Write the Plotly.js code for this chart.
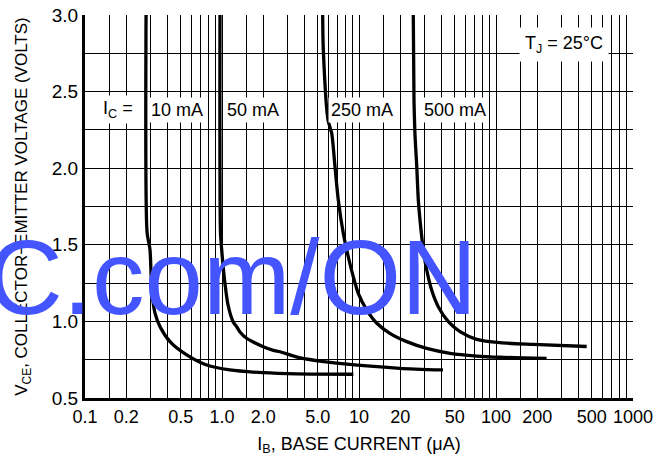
<!DOCTYPE html>
<html>
<head>
<meta charset="utf-8">
<script src="https://cdn.plot.ly/plotly-3.0.1.min.js"></script>
<style>html,body{margin:0;padding:0;background:#fff;}#chart{width:660px;height:464px;}</style>
</head>
<body>
<div id="chart"></div>
<script>
// Base current I_B (uA) and collector-emitter voltage V_CE (V) for each collector current
const ib10  = [0.279, 0.284, 0.298, 0.307, 0.324, 0.353, 0.417, 0.553, 0.773, 1.14, 1.99, 3.51, 9.1];
const vce10 = [3.0, 1.58, 1.47, 1.21, 1.055, 0.965, 0.868, 0.781, 0.715, 0.683, 0.665, 0.657, 0.655];

const ib50  = [0.967, 0.975, 0.995, 1.05, 1.107, 1.208, 1.28, 1.353, 1.51, 1.69, 2.0, 2.37, 2.65, 3.6, 6.14, 11.4, 19.9, 41];
const vce50 = [3.0, 1.58, 1.466, 1.251, 1.107, 0.996, 0.965, 0.931, 0.89, 0.866, 0.835, 0.811, 0.802, 0.765, 0.732, 0.709, 0.694, 0.683];

const ib250  = [5.43, 5.49, 5.94, 6.32, 6.68, 7.06, 7.68, 8.35, 9.08, 9.88, 11.4, 13.5, 16.8, 22.3, 31.2, 46.2, 72.3, 107, 234];
const vce250 = [3.0, 2.772, 2.315, 2.228, 2.01, 1.792, 1.575, 1.422, 1.292, 1.183, 1.074, 0.988, 0.922, 0.868, 0.824, 0.792, 0.774, 0.766, 0.758];

const ib500  = [24.9, 25.2, 25.6, 26.4, 27.1, 28.2, 29.5, 31.2, 33.9, 37.9, 44.9, 54.6, 72.3, 107, 187, 459];
const vce500 = [3.0, 2.445, 2.228, 2.01, 1.792, 1.618, 1.466, 1.336, 1.205, 1.096, 0.998, 0.933, 0.883, 0.861, 0.85, 0.836];

const curveLabels = ["I<sub>C</sub> =", "10 mA", "50 mA", "250 mA", "500 mA"];

// Axis ticks (grid at 1, 1.5, 2..9 per decade; labels only at 1-2-5)
const xLabelVals = [0.1, 0.2, 0.5, 1, 2, 5, 10, 20, 50, 100, 200, 500, 1000];
const xLabelText = ["0.1", "0.2", "0.5", "1.0", "2.0", "5.0", "10", "20", "50", "100", "200", "500", "1000"];
const decades = [0.1, 1, 10, 100];
const gridMults = [1, 1.5, 2, 3, 4, 5, 6, 7, 8, 9];
const yTickVals = [0.5, 0.75, 1.0, 1.25, 1.5, 1.75, 2.0, 2.25, 2.5, 2.75, 3.0];
const yTickText = ["0.5", "", "1.0", "", "1.5", "", "2.0", "", "2.5", "", "3.0"];

const xTickVals = [];
decades.forEach(d => gridMults.forEach(m => xTickVals.push(+(d * m).toPrecision(6))));
xTickVals.push(1000);
const xTickText = xTickVals.map(v => {
  const i = xLabelVals.findIndex(l => Math.abs(l - v) < 1e-9);
  return i >= 0 ? xLabelText[i] : "";
});

const FONT = "'Liberation Sans', Arial, sans-serif";

const series = [[ib10, vce10], [ib50, vce50], [ib250, vce250], [ib500, vce500]];
const traces = series.map(([x, y]) => ({
  x: x, y: y, type: "scatter", mode: "lines",
  line: {color: "#000", width: 3.3, shape: "spline", smoothing: 0.7},
  hoverinfo: "skip", showlegend: false
}));

const labelPos = [[0.061, 0.752], [0.167, 0.752], [0.3066, 0.752], [0.506, 0.752], [0.676, 0.752]];
const annotations = curveLabels.map((t, i) => ({
  xref: "paper", yref: "paper", x: labelPos[i][0], y: labelPos[i][1],
  xanchor: "center", yanchor: "middle",
  text: t, showarrow: false, bgcolor: "#fff", borderpad: 2,
  font: {family: FONT, size: 18, color: "#000"}
}));
annotations.push({
  xref: "paper", yref: "paper", x: 0.874, y: 0.922,
  xanchor: "center", yanchor: "middle",
  text: "T<sub>J</sub> = 25°C", showarrow: false, bgcolor: "#fff", borderpad: 5,
  font: {family: FONT, size: 18, color: "#000"}
});
annotations.push({
  xref: "paper", yref: "paper", x: (479 - 85) / 548, y: (398 - 277) / 383,
  xanchor: "right", yanchor: "middle",
  text: "C.com/ON", showarrow: false,
  font: {family: FONT, size: 105, color: "#4455ff"}
});

const layout = {
  width: 660, height: 464,
  margin: {l: 85, r: 27, t: 15, b: 66},
  paper_bgcolor: "#fff", plot_bgcolor: "#fff",
  font: {family: FONT, size: 18, color: "#000"},
  xaxis: {
    type: "log", range: [-1, 3],
    tickmode: "array", tickvals: xTickVals, ticktext: xTickText,
    showgrid: true, gridcolor: "#000", gridwidth: 1,
    showline: true, linecolor: "#000", linewidth: 3,
    ticks: "", tickfont: {family: FONT, size: 18, color: "#000"},
    zeroline: false,
    title: {text: "I<sub>B</sub>, BASE CURRENT (μA)", font: {family: FONT, size: 18, color: "#000"}, standoff: 12}
  },
  yaxis: {
    range: [0.5, 3.0],
    tickmode: "array", tickvals: yTickVals, ticktext: yTickText,
    showgrid: true, gridcolor: "#000", gridwidth: 1,
    showline: true, linecolor: "#000", linewidth: 3,
    ticks: "", tickfont: {family: FONT, size: 19, color: "#000"},
    zeroline: false,
    title: {text: "V<sub>CE</sub>, COLLECTOR−EMITTER VOLTAGE (VOLTS)", font: {family: FONT, size: 17, color: "#000"}, standoff: 20}
  },
  annotations: annotations
};

Plotly.newPlot("chart", traces, layout, {staticPlot: true, displayModeBar: false});
</script>
</body>
</html>
